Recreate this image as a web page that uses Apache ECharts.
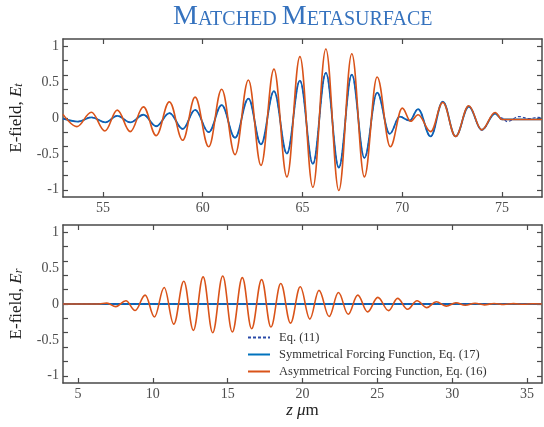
<!DOCTYPE html>
<html>
<head>
<meta charset="utf-8">
<script src="https://cdn.jsdelivr.net/npm/echarts@6/dist/echarts.min.js"></script>
<style>
html,body{margin:0;padding:0;background:#fff;}
#chart{width:544px;height:427px;}
</style>
</head>
<body>
<div id="chart"></div>
<script>
// ---- Data (extrema of each wave, z in µm) ----
const seriesNames = ['Eq. (11)', 'Symmetrical Forcing Function, Eq. (17)', 'Asymmetrical Forcing Function, Eq. (16)'];

// Top panel: transmitted field E_t
const asymTop = [
  [53.0,0.05],[53.7,-0.12],[54.42,0.08],[55.1,-0.18],[55.72,0.11],[56.37,-0.19],[57.03,0.155],
  [57.67,-0.245],[58.33,0.225],[59.0,-0.31],[59.62,0.29],[60.3,-0.4],[60.95,0.4],[61.62,-0.51],
  [62.29,0.53],[62.92,-0.66],[63.57,0.68],[64.22,-0.82],[64.87,0.855],[65.52,-0.965],[66.17,0.96],
  [66.82,-1.01],[67.47,0.895],[68.1,-0.82],[68.74,0.57],[69.4,-0.4],[70.0,0.137],[70.42,-0.046],
  [70.79,0.045],[71.42,-0.19],[72.03,0.215],[72.67,-0.257],[73.33,0.17],[73.98,-0.166],[74.65,0.077],
  [75.0,-0.02],[77.0,-0.02]
];
const symTop = [
  [53.0,-0.01],[53.75,-0.05],[54.42,0.01],[55.12,-0.06],[55.72,0.03],[56.37,-0.06],[57.03,0.045],
  [57.67,-0.115],[58.33,0.068],[59.0,-0.152],[59.62,0.114],[60.3,-0.198],[60.95,0.178],[61.62,-0.275],
  [62.29,0.27],[62.92,-0.367],[63.57,0.375],[64.22,-0.495],[64.87,0.52],[65.52,-0.64],[66.17,0.627],
  [66.82,-0.69],[67.47,0.605],[68.1,-0.555],[68.74,0.352],[69.37,-0.22],[69.87,0.018],[70.37,-0.037],
  [70.79,0.124],[71.42,-0.257],[72.03,0.228],[72.67,-0.257],[73.33,0.16],[73.98,-0.166],[74.65,0.063],
  [75.0,-0.02],[77.0,-0.02]
];
const eq11Top = [
  [53.0,-0.01],[53.75,-0.05],[54.42,0.01],[55.12,-0.06],[55.72,0.03],[56.37,-0.06],[57.03,0.045],
  [57.67,-0.115],[58.33,0.068],[59.0,-0.152],[59.62,0.114],[60.3,-0.198],[60.95,0.178],[61.62,-0.275],
  [62.29,0.27],[62.92,-0.367],[63.57,0.375],[64.22,-0.495],[64.87,0.52],[65.52,-0.64],[66.17,0.627],
  [66.82,-0.69],[67.47,0.605],[68.1,-0.555],[68.74,0.352],[69.37,-0.22],[69.87,0.018],[70.37,-0.037],
  [70.79,0.124],[71.42,-0.257],[72.03,0.228],[72.67,-0.257],[73.33,0.16],[73.98,-0.166],[74.65,0.063],
  [75.0,0.0],[75.25,-0.05],[75.85,0.02],[76.35,-0.01],[76.8,0.01],[77.0,0.0]
];

// Bottom panel: reflected field E_r
const asymBot = [
  [4.0,0],[6.4,0],[6.93,0.012],[7.53,-0.036],[8.2,0.045],[8.82,-0.09],[9.49,0.124],[10.11,-0.18],
  [10.76,0.23],[11.4,-0.28],[12.07,0.317],[12.71,-0.367],[13.36,0.378],[14.0,-0.4],[14.67,0.39],
  [15.31,-0.39],[15.98,0.367],[16.6,-0.344],[17.27,0.34],[17.89,-0.32],[18.55,0.285],[19.2,-0.266],
  [19.85,0.24],[20.49,-0.21],[21.1,0.19],[21.78,-0.174],[22.4,0.16],[23.05,-0.142],[23.69,0.124],
  [24.35,-0.11],[25.03,0.092],[25.75,-0.092],[26.35,0.078],[27.02,-0.073],[27.65,0.045],[28.31,-0.05],
  [28.93,0.032],[29.6,-0.03],[30.25,0.018],[30.87,-0.018],[31.53,0.01],[32.15,-0.012],[32.8,0.008],
  [33.45,-0.006],[34.1,0.005],[34.75,-0.004],[35.4,0.003],[36.0,0]
];
const symBot = [[4.0,0],[36.0,0]];
const eq11Bot = [[4.0,0.003],[36.0,0.003]];

// Axes
const xRangeTop = [53, 77];
const xRangeBot = [4, 36];
const yRange = [-1.1, 1.1];
const xTicksTop = [55, 60, 65, 70, 75];
const xTicksBot = [5, 10, 15, 20, 25, 30, 35];
const yLabels = [-1, -0.5, 0, 0.5, 1];
const yTicks = [-1, -0.8, -0.6, -0.4, -0.2, 0, 0.2, 0.4, 0.6, 0.8, 1];

// ---- Chart ----
const FONT = 'Liberation Serif';
const AX = '#4a4a4a';
const LBL = '#4d4d4d';
const BLUE = '#0072BD', ORANGE = '#D95319', DASH = '#2a4aa8';

function xAx(grid, range, ticks, pos, showLabel, extra) {
  return Object.assign({
    type: 'value', gridIndex: grid, min: range[0], max: range[1], position: pos,
    axisLine: {show: true, onZero: false, lineStyle: {color: AX, width: 1.5}},
    axisTick: {show: true, inside: true, length: 5, customValues: ticks, lineStyle: {color: AX, width: 1.2}},
    axisLabel: {show: showLabel, customValues: ticks, margin: 4, color: LBL, fontFamily: FONT, fontSize: 14},
    splitLine: {show: false}
  }, extra || {});
}
function yAx(grid, pos, showLabel, extra) {
  return Object.assign({
    type: 'value', gridIndex: grid, min: yRange[0], max: yRange[1], position: pos,
    axisLine: {show: true, onZero: false, lineStyle: {color: AX, width: 1.5}},
    axisTick: {show: true, inside: true, length: 5, customValues: yTicks, lineStyle: {color: AX, width: 1.2}},
    axisLabel: {show: showLabel, customValues: yLabels, margin: 4, color: LBL, fontFamily: FONT, fontSize: 14},
    splitLine: {show: false}
  }, extra || {});
}
function yName(sub) {
  return {
    name: '{a|E-field, }{i|E}{s|' + sub + '}',
    nameLocation: 'middle', nameGap: 38,
    nameTextStyle: {
      fontFamily: FONT, fontSize: 17, color: '#222',
      rich: {
        a: {fontFamily: FONT, fontSize: 17, color: '#222', verticalAlign: 'bottom', lineHeight: 20},
        i: {fontFamily: FONT, fontSize: 17, fontStyle: 'italic', color: '#222', verticalAlign: 'bottom', lineHeight: 20},
        s: {fontFamily: FONT, fontSize: 12, fontStyle: 'italic', color: '#222', verticalAlign: 'bottom', lineHeight: 16}
      }
    }
  };
}
function line(name, data, xi, yi, color, width, type, z) {
  return {
    name: name, type: 'line', xAxisIndex: xi, yAxisIndex: yi, data: data,
    symbol: 'none', showSymbol: false, smooth: 0.38, smoothMonotone: 'x',
    lineStyle: {color: color, width: width, type: type}, itemStyle: {color: color},
    z: z, silent: true
  };
}

const chart = echarts.init(document.getElementById('chart'), null, {renderer: 'canvas'});
chart.setOption({
  animation: false,
  backgroundColor: '#fff',
  title: {
    text: '{b|M}{s|ATCHED} {b|M}{s|ETASURFACE}',
    left: 173, top: 3, padding: 0,
    textStyle: {
      fontWeight: 'normal',
      rich: {
        b: {fontFamily: FONT, fontSize: 28, fontWeight: 'normal', color: '#3572be', verticalAlign: 'bottom', lineHeight: 28},
        s: {fontFamily: FONT, fontSize: 20, fontWeight: 'normal', color: '#3572be', verticalAlign: 'bottom', lineHeight: 28, padding: [0,0,1,0]}
      }
    }
  },
  grid: [
    {left: 62, right: 2, top: 39, height: 158},
    {left: 62, right: 2, top: 225, height: 158}
  ],
  xAxis: [
    xAx(0, xRangeTop, xTicksTop, 'bottom', true),
    xAx(0, xRangeTop, xTicksTop, 'top', false),
    xAx(1, xRangeBot, xTicksBot, 'bottom', true, {
      name: '{i|z} {i|μ}{a|m}', nameLocation: 'middle', nameGap: 18,
      nameTextStyle: {
        fontFamily: FONT, fontSize: 17, color: '#222', verticalAlign: 'top',
        rich: {
          i: {fontFamily: FONT, fontSize: 17, fontStyle: 'italic', color: '#222'},
          a: {fontFamily: FONT, fontSize: 17, color: '#222'}
        }
      }
    }),
    xAx(1, xRangeBot, xTicksBot, 'top', false)
  ],
  yAxis: [
    yAx(0, 'left', true, yName('t')),
    yAx(0, 'right', false),
    yAx(1, 'left', true, yName('r')),
    yAx(1, 'right', false)
  ],
  legend: {
    data: seriesNames,
    orient: 'vertical', left: 247, top: 331,
    itemWidth: 22, itemHeight: 12, itemGap: 4,
    padding: 0,
    itemStyle: {opacity: 0},
    textStyle: {fontFamily: FONT, fontSize: 12.5, color: '#333', padding: [0, 0, 0, 4]}
  },
  series: [
    line(seriesNames[1], symTop, 0, 0, BLUE, 1.8, 'solid', 2),
    line(seriesNames[0], eq11Top, 0, 0, DASH, 1.2, [3, 2], 3),
    line(seriesNames[2], asymTop, 0, 0, ORANGE, 1.6, 'solid', 4),
    line(seriesNames[1], symBot, 2, 2, BLUE, 1.8, 'solid', 2),
    line(seriesNames[0], eq11Bot, 2, 2, DASH, 1.2, [3, 2], 3),
    line(seriesNames[2], asymBot, 2, 2, ORANGE, 1.6, 'solid', 4)
  ]
});
</script>
</body>
</html>
